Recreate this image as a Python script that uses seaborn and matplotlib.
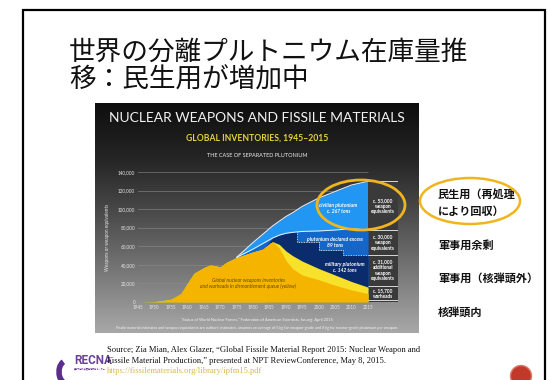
import numpy as np
import matplotlib
matplotlib.use("Agg")
import matplotlib.pyplot as plt
import seaborn as sns
import pandas as pd
from matplotlib.patches import Rectangle, Ellipse, Arc
from matplotlib.colors import LinearSegmentedColormap

# ---------------- data (thousands of weapons / weapon equivalents) ----------------
years = [1945, 1950, 1955, 1958, 1960, 1962, 1965, 1967, 1970, 1972, 1975, 1980,
         1983, 1985, 1986, 1988, 1990, 1992, 1995, 2000, 2005, 2010, 2015]
stockpile = [0, 0.5, 3, 9, 20, 31, 37, 40, 38, 43, 48, 54,
             57, 63, 65, 58, 45, 36, 29, 24, 18, 13, 9]
warheads_total = [0, 0.5, 3, 9, 20, 31, 37, 40, 38, 43, 48, 54,
                  57, 63, 65, 62, 55, 50, 44, 36, 29, 22, 16]
military_top = [0, 0.5, 3, 9, 20, 31, 37, 40, 38, 43, 48, 57,
                63, 67, 69, 72, 74, 75, 76, 76.5, 77.5, 79, 77.5]
total_top = [0, 0.5, 3, 9, 20, 31, 37, 40, 38, 43, 48, 64,
             73, 79, 82, 87, 92, 96, 103, 112, 119, 126, 130]
navy_years = [1984, 1986, 1988, 1990, 1993.5, 1993.5, 2000, 2000, 2007.5, 2007.5, 2015]
navy_top = [61, 69, 72, 74, 75.5, 65, 65, 56, 56, 51, 51]

ytick_vals = [0, 20, 40, 60, 80, 100, 120, 140]
ytick_labels = ["0", "20,000", "40,000", "60,000", "80,000", "100,000", "120,000", "140,000"]
xtick_years = [1945, 1950, 1955, 1960, 1965, 1970, 1975, 1980, 1985, 1990, 1995, 2000, 2005, 2010, 2015]

column_breaks = [130, 77.5, 50.5, 17.5, 1.8]
column_texts = ["c. 53,000\nweapon\nequivalents", "c. 30,000\nweapon\nequivalents",
                "c. 31,000\nadditional\nweapon\nequivalents", "c. 15,700\nwarheads"]
column_text_y = [103, 64, 34, 9]

side_labels = ["民生用（再処理", "により回収）", "軍事用余剰", "軍事用（核弾頭外）", "核弾頭内"]
side_label_y = [195, 211, 245, 278, 312]

title_lines = ["世界の分離プルトニウム在庫量推", "移：民生用が増加中"]
source_lines = ["Source; Zia Mian, Alex Glazer, \u201cGlobal Fissile Material Report 2015: Nuclear Weapon and",
                "Fissile Material Production,\u201d presented at NPT ReviewConference, May 8, 2015."]
source_url = "https://fissilematerials.org/library/ipfm15.pdf"

# ---------------- styling ----------------
sns.set_theme(style="white")
plt.rcParams['font.family'] = ['Lato', 'DejaVu Sans']

W, H = 549, 380
fig = plt.figure(figsize=(W / 100, H / 100), dpi=100)
fig.patch.set_facecolor('white')


def fx(x):
    return x / W


def fy(y):
    return 1 - y / H


# slide frame
fig.add_artist(Rectangle((fx(23), fy(400)), fx(545) - fx(23), fy(10) - fy(400),
                         transform=fig.transFigure, fill=False, ec='black', lw=1.6))

# slide title
for i, line in enumerate(title_lines):
    fig.text(fx(69), fy([52, 80][i]), line, fontsize=19.2, va='center', ha='left',
             family=['Noto Sans CJK JP', 'DejaVu Sans'], color='#111111')

# chart background (embedded picture)
bg = fig.add_axes([fx(95), fy(333), fx(418) - fx(95), fy(103) - fy(333)])
grad = np.linspace(0, 1, 256).reshape(-1, 1)
cmap = LinearSegmentedColormap.from_list('g', ['#0e0e0e', '#262626', '#4e4e4e', '#7a7a7a', '#a8a8a8'])
bg.imshow(grad, aspect='auto', cmap=cmap, extent=[0, 1, 0, 1], origin='upper')
bg.axis('off')

# chart titles
fig.text(fx(257), fy(118), "NUCLEAR WEAPONS AND FISSILE MATERIALS", color='#f2f2f2',
         fontsize=10, ha='center', va='center')
fig.text(fx(257), fy(138), "GLOBAL INVENTORIES, 1945\u20132015", color='#e6d23a',
         fontsize=6.2, ha='center', va='center', weight='bold')
fig.text(fx(257), fy(155), "THE CASE OF SEPARATED PLUTONIUM", color='#eeeeee',
         fontsize=4.0, ha='center', va='center')

# main axes
ax = fig.add_axes([fx(138), fy(302), fx(398.3) - fx(138), fy(172) - fy(302)])
ax.set_facecolor('none')
ax.set_xlim(1945, 2024.2)
ax.set_ylim(0, 140)

for v in ytick_vals:
    ax.hlines(v, 1944.3, 2015, color='#8c8c8c', lw=0.4, zorder=1)

ax.fill_between(years, 0, total_top, color='#2196f3', lw=0, zorder=2)
ax.fill_between(years, 0, military_top, color='#1466c8', lw=0, zorder=3)
ax.fill_between(navy_years, 0, navy_top, color='#0a2c6c', lw=0, zorder=4)
ax.fill_between(years, 0, warheads_total, color='#f8e12a', lw=0, zorder=5)
ax.fill_between(years, 0, stockpile, color='#f5b400', lw=0, zorder=6)

df = pd.DataFrame({'year': years, 'total': total_top, 'military': military_top})
late = df[df['year'] >= 1975]
sns.lineplot(data=late, x='year', y='total', color='#d8ecff', lw=0.8, ax=ax, zorder=7)
sns.lineplot(data=late, x='year', y='military', color='#e8f2ff', lw=0.7, ax=ax, zorder=7)
ax.plot(navy_years[4:], navy_top[4:], ls=(0, (1, 1)), color='white', lw=0.6, zorder=7)

ax.set_xticks(xtick_years)
ax.set_xticklabels([str(y) for y in xtick_years], fontsize=3.3, color='#e6e6e6')
ax.set_yticks(ytick_vals)
ax.set_yticklabels(ytick_labels, fontsize=3.3, color='#e6e6e6')
ax.tick_params(length=0, pad=2)
ax.set_xlabel('')
ax.set_ylabel('Weapons or weapon equivalents', fontsize=3.3, color='#e6e6e6', labelpad=6)
for s in ax.spines.values():
    s.set_visible(False)

# right column
ax.add_patch(Rectangle((2015, 0), 9.2, 130, color='#3a3a3a', lw=0, zorder=2))
ax.hlines(column_breaks, 2015, 2024.2, color='#f0f0f0', lw=0.6, zorder=8)
for t, yv in zip(column_texts, column_text_y):
    ax.text(2019.6, yv, t, color='white', fontsize=3.4, ha='center', va='center',
            weight='bold', linespacing=1.15, zorder=9)

# in-chart labels
ax.text(2006, 101, "civilian plutonium\nc. 267 tons", color='white', fontsize=3.6,
        style='italic', weight='bold', ha='center', va='center', zorder=9)
ax.text(2005, 64, "plutonium declared excess\n89 tons", color='white', fontsize=3.6,
        style='italic', weight='bold', ha='center', va='center', zorder=9)
ax.text(2008, 37, "military plutonium\nc. 142 tons", color='white', fontsize=3.6,
        style='italic', weight='bold', ha='center', va='center', zorder=9)
ax.text(1978.5, 20, "Global nuclear weapons inventories\nand warheads in dismantlement queue (yellow)",
        color='#6b4a00', fontsize=3.6, style='italic', ha='center', va='center', zorder=9)

# chart footer
fig.text(fx(257), fy(320), "\u201cStatus of World Nuclear Forces,\u201d Federation of American Scientists, fas.org, April 2015",
         color='#f4f4f4', fontsize=2.9, ha='center', va='center')
fig.text(fx(257), fy(328.5), "Fissile material estimates and weapon equivalents are authors\u2019 estimates, assumes an average of "
         "5 kg for weapon-grade and 8 kg for reactor-grade plutonium per weapon.",
         color='#f4f4f4', fontsize=2.7, ha='center', va='center')

# highlight ellipses
fig.add_artist(Ellipse((fx(361), fy(205)), 88 / W, 50 / H, transform=fig.transFigure,
                       fill=False, ec='#f0b51e', lw=2.0, zorder=20))
fig.add_artist(Ellipse((fx(470), fy(201)), 100 / W, 46 / H, transform=fig.transFigure,
                       fill=False, ec='#f0b51e', lw=1.8, zorder=20))

# side labels
for t, yv in zip(side_labels, side_label_y):
    fig.text(fx(438), fy(yv), t, fontsize=8, weight='bold', ha='left', va='center',
             family=['Noto Sans CJK JP', 'DejaVu Sans'], color='#111111')

# source
for i, line in enumerate(source_lines):
    fig.text(fx(107), fy([350, 361][i]), line, fontsize=6.1, ha='left', va='center',
             family=['Liberation Serif', 'DejaVu Serif'], color='#111111', zorder=5)
fig.text(fx(107), fy(371), source_url, fontsize=6.1, ha='left', va='center',
         family=['Liberation Serif', 'DejaVu Serif'], color='#d9b84a', zorder=5)

# RECNA logo (text)
fig.text(fx(74), fy(360), "RECNA", fontsize=8.5, weight='bold', color='#5b2d8f', ha='left', va='center',
         family=['Liberation Sans Narrow', 'Roboto'], alpha=0.9, zorder=4)
fig.text(fx(74), fy(369), "長崎大学核兵器廃絶研究センター", fontsize=1.5, color='#5b2d8f', ha='left', va='center',
         family=['Noto Sans CJK JP', 'DejaVu Sans'])
fig.add_artist(Arc((fx(66), fy(372)), 14 / W, 22 / H, theta1=100, theta2=280,
                   transform=fig.transFigure, color='#5b2d8f', lw=4))

# page number badge
fig.add_artist(Ellipse((fx(521), fy(376)), 21 / W, 21 / H, transform=fig.transFigure,
                       fc='#c0392b', ec='#e07a6a', lw=1))

fig.savefig('out.png', dpi=100, facecolor='white')
